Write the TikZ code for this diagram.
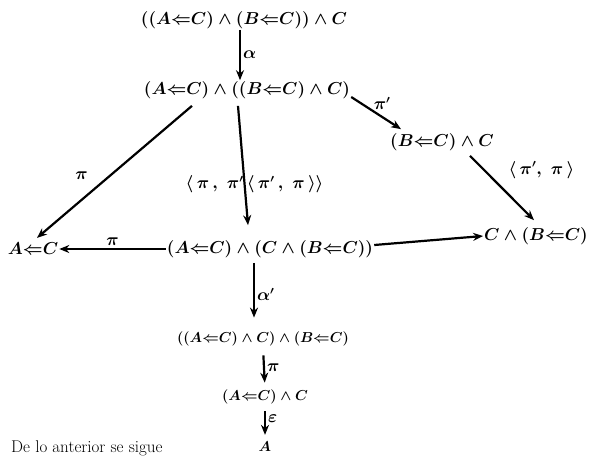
\documentclass[tikz,border=0pt]{standalone}
\usetikzlibrary{arrows.meta}

\tikzset{
  obj/.style={inner sep=1pt, font=\fontsize{18}{21}\selectfont\boldmath},
  objsm/.style={inner sep=1pt, font=\fontsize{14.5}{17}\selectfont\boldmath},
  lbl/.style={inner sep=2pt, font=\fontsize{16}{18}\selectfont\boldmath},
  arr/.style={line width=2.2pt, -{Stealth[length=10pt,width=8pt]}},
}
\newcommand{\lar}{{\Leftarrow}}

\begin{document}
\begin{tikzpicture}[x=1pt,y=-1pt]
        \useasboundingbox (0,0) rectangle (589,456);

        % objetos
        \node[obj] (n0) at (244,20) {$((A\lar C)\wedge(B\lar C))\wedge C$};
        \node[obj] (n1) at (247,90) {$(A\lar C)\wedge((B\lar C)\wedge C)$};
        \node[obj] (n2) at (442,142) {$(B\lar C)\wedge C$};
        \node[obj] (n3) at (33,249) {$A\lar C$};
        \node[obj] (n4) at (270,249) {$(A\lar C)\wedge(C\wedge(B\lar C))$};
        \node[obj] (n5) at (536,236) {$C\wedge(B\lar C)$};
        \node[objsm] (n6) at (263,339) {$((A\lar C)\wedge C)\wedge(B\lar C)$};
        \node[objsm] (n7) at (265,397) {$(A\lar C)\wedge C$};
        \node[objsm] (n8) at (265,447) {$A$};
        \node[anchor=base west, inner sep=0pt, font=\fontsize{17}{19}\selectfont] (txt) at (11,452) {De lo anterior se sigue};

        % flechas
        \draw[arr] ([xshift=-4pt]n0.south) -- ([xshift=-7pt]n1.north) node[lbl, midway, right] {$\alpha$};
        \draw[arr] ([xshift=-55pt,yshift=-6pt]n1.south) -- ([xshift=4pt,yshift=4pt]n3.north) node[lbl, pos=0.62, above left=5pt] {$\pi$};
        \draw[arr] ([xshift=-9pt,yshift=-6pt]n1.south) -- ([xshift=-22pt,yshift=14pt]n4.north) node[lbl, pos=0.66, xshift=10pt] {$\langle\,\pi\,,\;\pi'\,\langle\,\pi'\,,\;\pi\,\rangle\rangle$};
        \draw[arr] ([yshift=-7pt]n1.east) -- ([xshift=12pt,yshift=3pt]n2.north west) node[lbl, midway, above, xshift=6pt] {$\pi'$};
        \draw[arr] ([xshift=28pt,yshift=-4pt]n2.south) -- ([xshift=-2pt,yshift=6pt]n5.north) node[lbl, pos=0.4, above right, xshift=10pt] {$\langle\,\pi',\;\pi\,\rangle$};
        \draw[arr] (n4.west) -- (n3.east) node[lbl, midway, above] {$\pi$};
        \draw[arr] ([yshift=4pt]n4.east) -- (n5.west);
        \draw[arr, shorten <=4pt, shorten >=13pt] ([xshift=-16pt]n4.south) -- ([xshift=-9pt]n6.north) node[lbl, midway, right] {$\alpha'$};
        \draw[arr, shorten <=8pt, shorten >=6pt] (n6.south) -- (n7.north) node[lbl, midway, right] {$\pi$};
        \draw[arr, shorten <=6pt, shorten >=6pt] (n7.south) -- (n8.north) node[lbl, midway, right, yshift=4pt] {$\varepsilon$};
\end{tikzpicture}
\end{document}
